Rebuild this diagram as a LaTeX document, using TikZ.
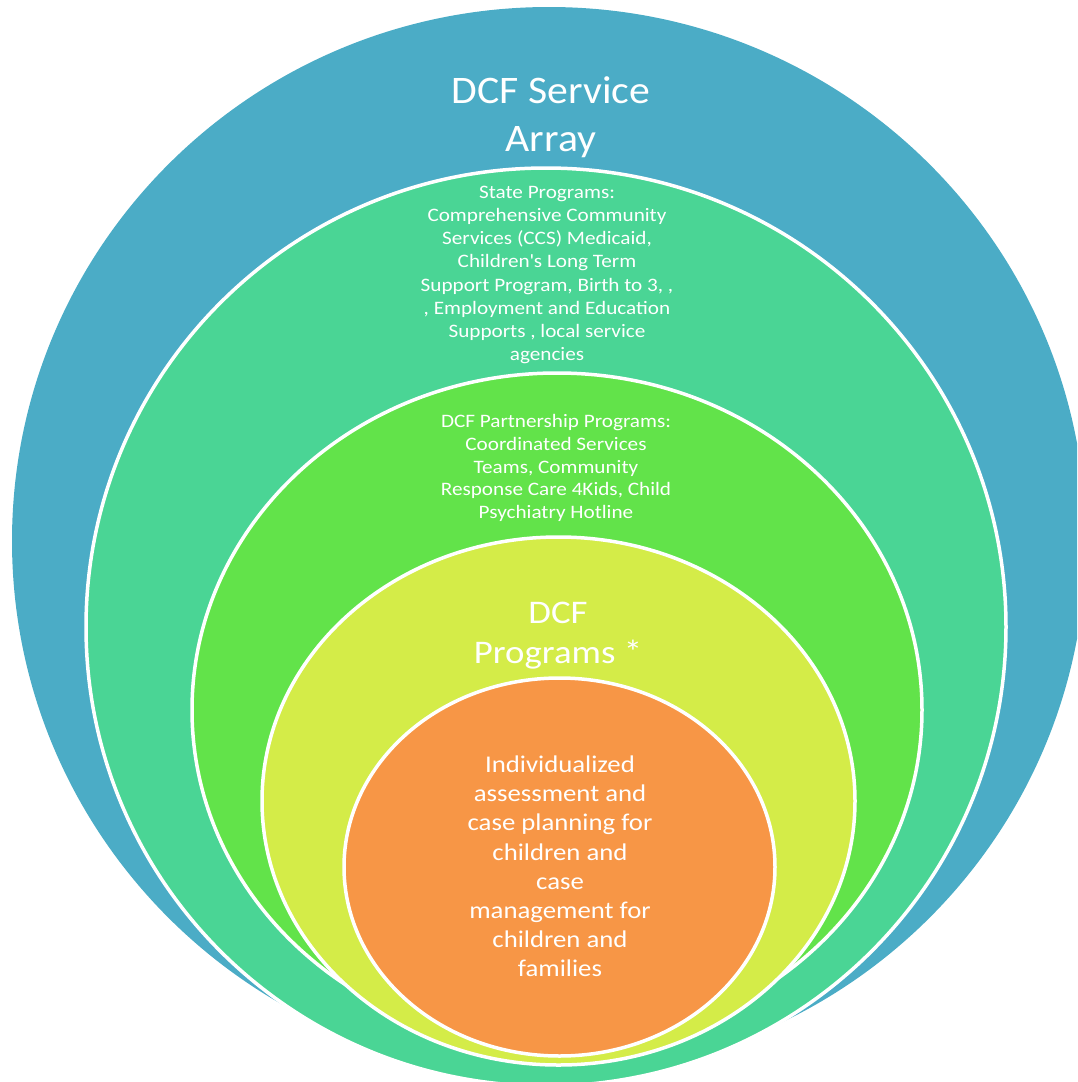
\documentclass[tikz,border=0pt]{standalone}
\usepackage{fontspec}
\setmainfont{Carlito}[FakeStretch=1.115]
\newfontfamily\titlefont{Carlito}[FakeStretch=1.07]
\usetikzlibrary{shapes.geometric}
\definecolor{cblue}{HTML}{4BACC6}
\definecolor{cgreen}{HTML}{4AD595}
\definecolor{clime}{HTML}{62E34A}
\definecolor{cyellow}{HTML}{D4EC48}
\definecolor{corange}{HTML}{F79646}
\begin{document}
\begin{tikzpicture}[x=1pt,y=-1pt,
  ring/.style={draw=white, line width=3.5pt},
  lbl/.style={text=white, align=center, inner sep=0pt}]
\useasboundingbox (0,0) rectangle (1077,1082);
\clip (0,0) rectangle (1077,1082);
\fill[cblue] (549,541) ellipse [x radius=537pt, y radius=534pt];
\path[ring, fill=cgreen] (546,627) ellipse [x radius=460pt, y radius=459pt];
\path[ring, fill=clime] (557,710) ellipse [x radius=365pt, y radius=337pt];
\path[ring, fill=cyellow] (558.5,801) ellipse [x radius=296.5pt, y radius=264pt];
\path[ring, fill=corange] (559.5,867) ellipse [x radius=215.5pt, y radius=189pt];

\node[lbl, font=\titlefont\fontsize{39}{48}\selectfont] (array) at (551,117) {DCF Service\\Array};
\node[lbl, font=\fontsize{19}{23.2}\selectfont] (state) at (547,275)
  {State Programs:\\Comprehensive Community\\Services (CCS) Medicaid,\\Children\textquotesingle s Long Term\\Support Program, Birth to 3, ,\\, Employment and Education\\Supports , local service\\agencies};
\node[lbl, font=\fontsize{19}{22.8}\selectfont] (partner) at (556,468)
  {DCF Partnership Programs:\\Coordinated Services\\Teams, Community\\Response Care 4Kids, Child\\Psychiatry Hotline};
\node[lbl, font=\fontsize{33}{40}\selectfont] (dcfprog) at (558,636) {DCF\\Programs *};
\node[lbl, font=\fontsize{24}{29.2}\selectfont] (indiv) at (560,866.5)
  {Individualized\\assessment and\\case planning for\\children and\\case\\management for\\children and\\families};
\end{tikzpicture}
\end{document}
